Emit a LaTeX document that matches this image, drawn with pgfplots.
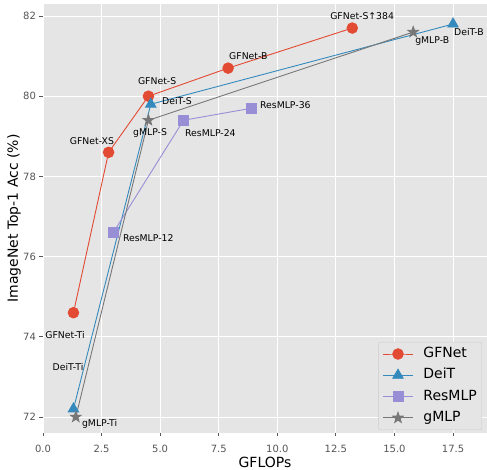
\documentclass[border=0pt]{standalone}
\usepackage{pgfplots}
\pgfplotsset{compat=1.18}
\usepackage{fontspec}
\setmainfont{DejaVu Sans}

\definecolor{ggred}{HTML}{E24A33}
\definecolor{ggblue}{HTML}{348ABD}
\definecolor{ggpurple}{HTML}{988ED5}
\definecolor{gggray}{HTML}{777777}
\definecolor{ggbg}{HTML}{E5E5E5}
\definecolor{tickgray}{HTML}{555555}
\definecolor{legframe}{HTML}{CCCCCC}

% filled five-pointed star
\pgfdeclareplotmark{fstar}{%
  \pgfmathsetmacro\rin{0.4*\pgfplotmarksize}%
  \pgfpathmoveto{\pgfpointpolar{90}{\pgfplotmarksize}}%
  \pgfpathlineto{\pgfpointpolar{126}{\rin pt}}%
  \pgfpathlineto{\pgfpointpolar{162}{\pgfplotmarksize}}%
  \pgfpathlineto{\pgfpointpolar{198}{\rin pt}}%
  \pgfpathlineto{\pgfpointpolar{234}{\pgfplotmarksize}}%
  \pgfpathlineto{\pgfpointpolar{270}{\rin pt}}%
  \pgfpathlineto{\pgfpointpolar{306}{\pgfplotmarksize}}%
  \pgfpathlineto{\pgfpointpolar{342}{\rin pt}}%
  \pgfpathlineto{\pgfpointpolar{18}{\pgfplotmarksize}}%
  \pgfpathlineto{\pgfpointpolar{54}{\rin pt}}%
  \pgfpathclose
  \pgfusepathqfillstroke
}

\begin{document}
\begin{tikzpicture}[annot/.style={font=\fontsize{9.3}{11}\selectfont, inner sep=0pt, text=black}]
\begin{axis}[
  name=ax,
  scale only axis,
  width=444pt, height=429pt,
  xmin=0, xmax=18.95,
  ymin=71.6, ymax=82.3,
  xtick={0,2.5,5,7.5,10,12.5,15,17.5},
  ytick={72,74,76,78,80,82},
  xticklabel style={yshift=-5pt, /pgf/number format/.cd, fixed, fixed zerofill, precision=1},
  /pgf/number format/assume math mode=true,
  ticklabel style={font=\fontsize{10}{12}\selectfont, color=tickgray},
  axis background/.style={fill=ggbg},
  axis line style={draw=none},
  grid=major,
  grid style={white, line width=0.9pt},
  tick align=outside,
  major tick length=3.5pt,
  tick style={tickgray, line width=0.8pt},
  xtick pos=bottom, ytick pos=left,
  xlabel={GFLOPs},
  ylabel={ImageNet Top-1 Acc (\%)},
  label style={font=\fontsize{14}{16}\selectfont},
  xlabel style={at={(axis description cs:0.5,-0.0676)}, anchor=center},
  ylabel style={at={(axis description cs:-0.0653,0.5)}, anchor=center},
  legend cell align=left,
  legend style={at={(axis description cs:0.9887,0.007)}, anchor=south east,
    fill=ggbg, draw=legframe, rounded corners=2pt,
    font=\fontsize{14}{16}\selectfont, row sep=5.5pt, inner sep=4pt,
    nodes={inner sep=1pt, text height=10.5pt, text depth=3.3pt},
    /tikz/every odd column/.append style={column sep=9pt}},
  legend image code/.code={\draw[mark repeat=2, mark phase=2]
    plot coordinates {(0pt,0pt) (15pt,0pt) (30pt,0pt)};},
  every axis plot/.append style={line width=0.9pt},
]

% GFNet
\addplot[ggred, mark=*, mark size=5.3pt, mark options={fill=ggred}]
  coordinates {(1.3,74.6) (2.8,78.6) (4.5,80.0) (7.9,80.7) (13.2,81.7)};
% DeiT
\addplot[ggblue, mark=triangle*, mark size=6pt, mark options={fill=ggblue}]
  coordinates {(1.3,72.2) (4.6,79.8) (17.5,81.8)};
% ResMLP
\addplot[ggpurple, mark=square*, mark size=5pt, mark options={fill=ggpurple}]
  coordinates {(3.0,76.6) (6.0,79.4) (8.9,79.7)};
% gMLP
\addplot[gggray, mark=fstar, mark size=5.5pt, mark options={fill=gggray}]
  coordinates {(1.4,72.0) (4.5,79.4) (15.8,81.6)};

\legend{GFNet, DeiT, ResMLP, gMLP}

\node[annot] at (axis cs:0.94,74.04) {GFNet-Ti};
\node[annot] at (axis cs:2.09,78.87) {GFNet-XS};
\node[annot] at (axis cs:4.87,80.37) {GFNet-S};
\node[annot, anchor=west] at (axis cs:7.94,80.99) {GFNet-B};
\node[annot] at (axis cs:13.62,81.99) {GFNet-S↑384};
\node[annot] at (axis cs:1.07,73.24) {DeiT-Ti};
\node[annot, anchor=west] at (axis cs:5.08,79.87) {DeiT-S};
\node[annot, anchor=west] at (axis cs:17.54,81.59) {DeiT-B};
\node[annot, anchor=west] at (axis cs:3.41,76.47) {ResMLP-12};
\node[annot, anchor=west] at (axis cs:6.06,79.09) {ResMLP-24};
\node[annot, anchor=west] at (axis cs:9.26,79.77) {ResMLP-36};
\node[annot, anchor=west] at (axis cs:1.66,71.82) {gMLP-Ti};
\node[annot] at (axis cs:4.57,79.09) {gMLP-S};
\node[annot, anchor=west] at (axis cs:15.88,81.37) {gMLP-B};
\end{axis}
\pgfresetboundingbox
\path ([xshift=-43pt,yshift=-37pt]ax.south west) rectangle ([yshift=4pt]ax.north east);
\end{tikzpicture}
\end{document}
